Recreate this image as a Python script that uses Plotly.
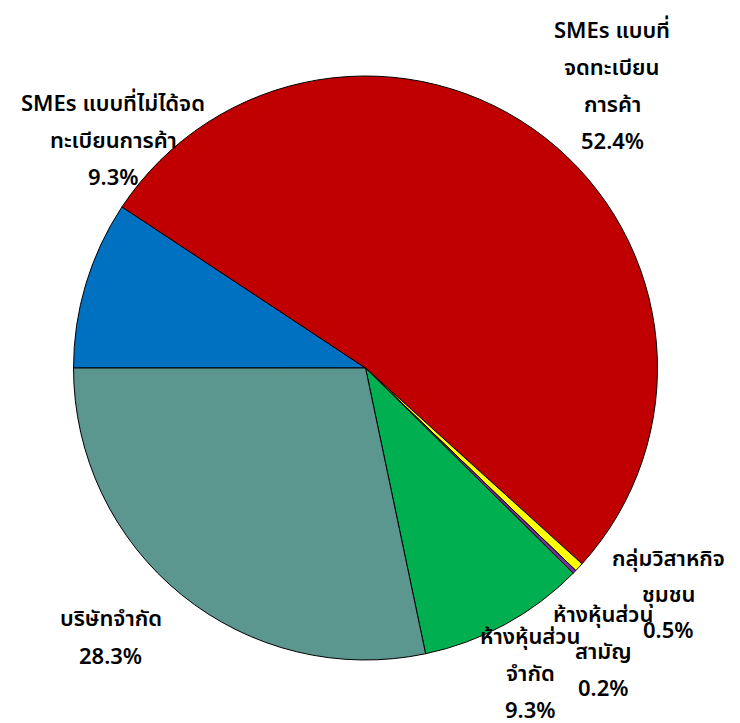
import plotly.graph_objects as go

categories = ["SMEs แบบที่ไม่ได้จดทะเบียนการค้า", "SMEs แบบที่จดทะเบียนการค้า",
              "กลุ่มวิสาหกิจชุมชน", "ห้างหุ้นส่วนสามัญ", "ห้างหุ้นส่วนจำกัด", "บริษัทจำกัด"]
values = [9.3, 52.4, 0.5, 0.2, 9.3, 28.3]
colors = ["#0070C0", "#C00000", "#FFFF00", "#7030A0", "#00B050", "#5B968F"]

# label line breaks as in the reference
label_lines = [
    ["SMEs แบบที่ไม่ได้จด", "ทะเบียนการค้า"],
    ["SMEs แบบที่", "จดทะเบียน", "การค้า"],
    ["กลุ่มวิสาหกิจ", "ชุมชน"],
    ["ห้างหุ้นส่วน", "สามัญ"],
    ["ห้างหุ้นส่วน", "จำกัด"],
    ["บริษัทจำกัด"],
]

# page has an 8px body margin; figure is sized to fill the rest of the window
OFF = 8
W, H = 740 - OFF, 723 - OFF


def px(x):
    return (x - OFF) / W


def py(y):
    return 1 - (y - OFF) / H


# label anchor (screen pixel centre x, first-line y, line step)
label_pos = [(113, 102, 37), (612, 29, 37), (668, 557, 36), (603, 613, 37), (530, 635, 37), (111, 617, 38)]

cx, cy, r = 365.5, 368, 292
fig = go.Figure(go.Pie(
    labels=categories, values=values, sort=False, direction="clockwise",
    rotation=270, textinfo="none", hoverinfo="label+percent",
    marker=dict(colors=colors, line=dict(color="black", width=1)),
    domain=dict(x=[px(cx - r), px(cx + r)], y=[py(cy + r), py(cy - r)]),
    showlegend=False,
))

font = dict(family="Noto Sans, Noto Sans Thai, sans-serif", size=22, color="black", weight=600)
for lines, val, (lx, ly, step) in zip(label_lines, values, label_pos):
    for i, t in enumerate(lines + [f"{val:.1f}%"]):
        fig.add_annotation(x=px(lx), y=py(ly + i * step), xref="paper", yref="paper",
                           text=t, showarrow=False, font=font, xanchor="center", yanchor="middle")

fig.update_layout(width=W, height=H, margin=dict(l=0, r=0, t=0, b=0),
                  paper_bgcolor="white", plot_bgcolor="white")
fig.write_html("out.html")
